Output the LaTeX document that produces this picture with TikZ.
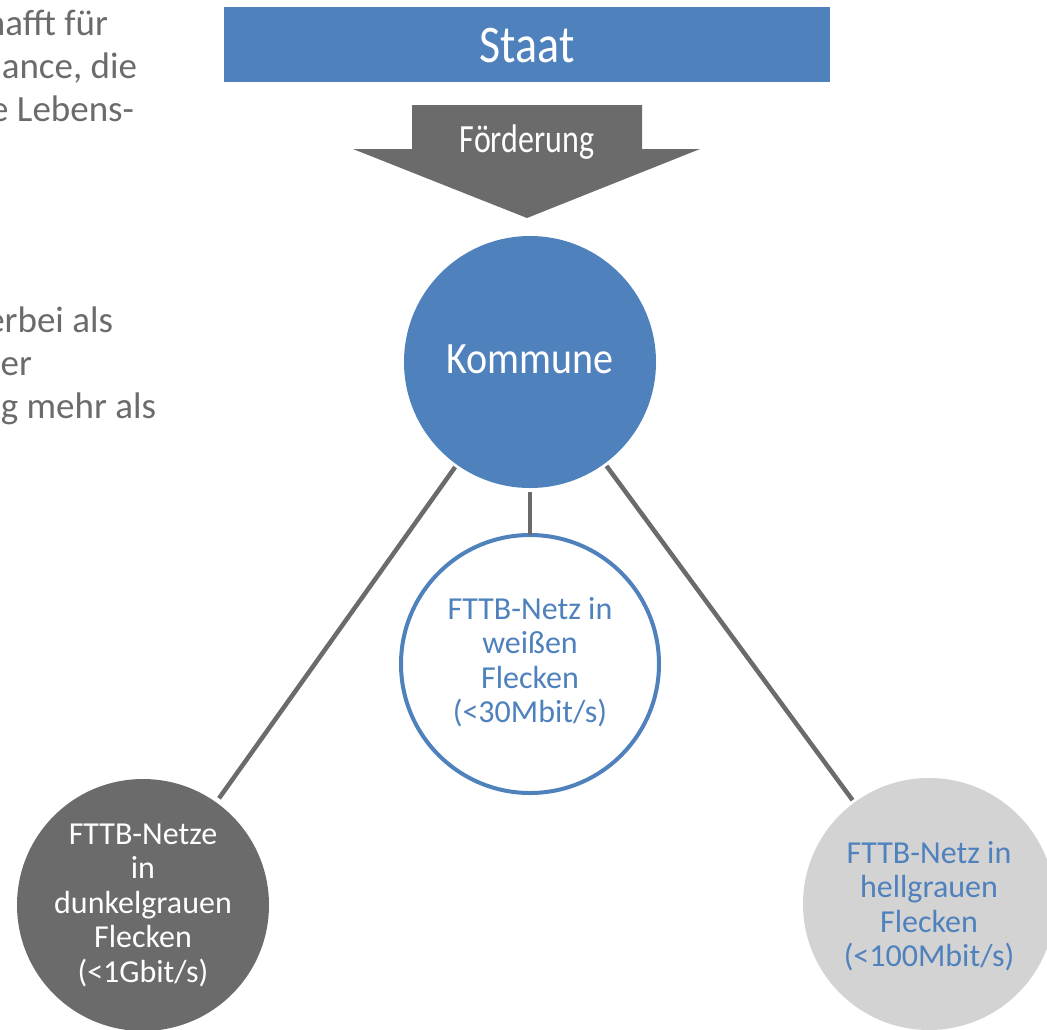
\documentclass[tikz,border=0pt]{standalone}
\usepackage{fontspec}
\setmainfont{Carlito}
\usepackage{graphicx}
\definecolor{ofblue}{HTML}{4F81BD}
\definecolor{dgrey}{HTML}{6B6B6B}
\definecolor{lgrey}{HTML}{D3D3D3}
\tikzset{
  sidetxt/.style={inner sep=0pt, outer sep=0pt, anchor=base east, text=dgrey, font=\fontsize{37}{42}\selectfont},
  disc/.style={circle, inner sep=0pt, outer sep=0pt, minimum size=252pt},
  circtxt/.style={inner sep=0pt, align=center, font=\fontsize{32}{34.5}\selectfont},
  conn/.style={draw=dgrey, line width=4.5pt},
  titletxt/.style={inner sep=0pt, anchor=base, text=white}
}
\begin{document}
\begin{tikzpicture}[x=1pt,y=-1pt]
\useasboundingbox (0,0) rectangle (1047,1029);
% side text (cut at the left edge, as in the reference)
\node[sidetxt] (s1) at (108,35) {hafft für};
\node[sidetxt] (s2) at (137,78) {ance, die};
\node[sidetxt] (s3) at (134,121) {e Lebens-};
\node[sidetxt] (s4) at (113,332) {erbei als};
\node[sidetxt] (s5) at (32,375) {er};
\node[sidetxt] (s6) at (156,418) {g mehr als};
% Staat box
\node[fill=ofblue, minimum width=606pt, minimum height=75pt, inner sep=0pt] (staat) at (527,44.5) {};
\node[titletxt, font=\fontsize{46}{50}\selectfont] (staattxt) at (527,62) {\scalebox{1}[1.15]{Staat}};
% Foerderung arrow
\fill[dgrey] (412,105) -- (642,105) -- (642,149) -- (700,149) -- (527,218) -- (353,149) -- (412,149) -- cycle;
\node[titletxt, font=\fontsize{32}{36}\selectfont] (foerd) at (527,152) {\scalebox{1}[1.25]{Förderung}};
% circles
\node[disc, fill=ofblue] (kom) at (530,362) {};
\node[titletxt, font=\fontsize{40}{44}\selectfont] (komtxt) at (530,373) {\scalebox{1}[1.12]{Kommune}};
\node[disc, fill=white, draw=ofblue, line width=4pt, minimum size=258pt] (mid) at (530,664) {};
\node[disc, fill=dgrey] (lft) at (143,905) {};
\node[disc, fill=lgrey] (rgt) at (929,904) {};
% connectors
\draw[conn, shorten <=3pt, shorten >=5pt] (kom) -- (lft);
\draw[conn, shorten <=3pt, shorten >=3pt] (kom) -- (rgt);
\draw[conn, shorten <=4pt] (kom) -- (mid);
% circle texts
\node[circtxt, text=ofblue] (midtxt) at (530,662) {FTTB-Netz in\\weißen\\Flecken\\(<30Mbit/s)};
\node[circtxt, text=white] (lfttxt) at (143,905) {FTTB-Netze\\in\\dunkelgrauen\\Flecken\\(<1Gbit/s)};
\node[circtxt, text=ofblue] (rgttxt) at (929,906) {FTTB-Netz in\\hellgrauen\\Flecken\\(<100Mbit/s)};
\end{tikzpicture}
\end{document}
